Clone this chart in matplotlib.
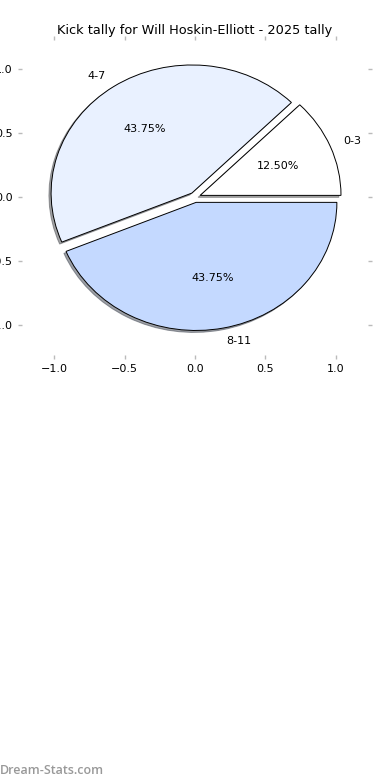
import matplotlib.pyplot as plt

# dati: kick tally per fascia
labels = ["0-3", "4-7", "8-11"]
kicks = [2, 7, 7]
colori = ["#ffffff", "#e9f1ff", "#c4d9ff"]
explode = [0.04, 0.04, 0.04]

fig = plt.figure(figsize=(3.9, 7.8), dpi=100)
ax = fig.add_axes([0.056, 0.545, 0.888, 0.404])

ax.pie(kicks, labels=labels, colors=colori, explode=explode, autopct="%.2f%%",
       shadow={"ox": -0.011, "oy": -0.011}, startangle=0, frame=True,
       wedgeprops={"edgecolor": "black", "linewidth": 0.7},
       textprops={"fontsize": 8})

ax.set_aspect("auto")
ax.set_xlim(-1.23, 1.23)
ax.set_ylim(-1.23, 1.23)
ax.set_xticks([-1.0, -0.5, 0.0, 0.5, 1.0])
ax.set_yticks([-1.0, -0.5, 0.0, 0.5, 1.0])
for s in ax.spines.values():
    s.set_visible(False)
ax.tick_params(axis="both", which="both", top=True, right=True, length=3,
               width=1, color="#bbbbbb", labelsize=8)
ax.set_title("Kick tally for Will Hoskin-Elliott - 2025 tally", fontsize=9.3, pad=4)

fig.text(0.0, 0.008, "Dream-Stats.com", fontsize=9, color="#999999",
         family="Open Sans", fontweight="semibold")

plt.savefig("out.png", dpi=100)
